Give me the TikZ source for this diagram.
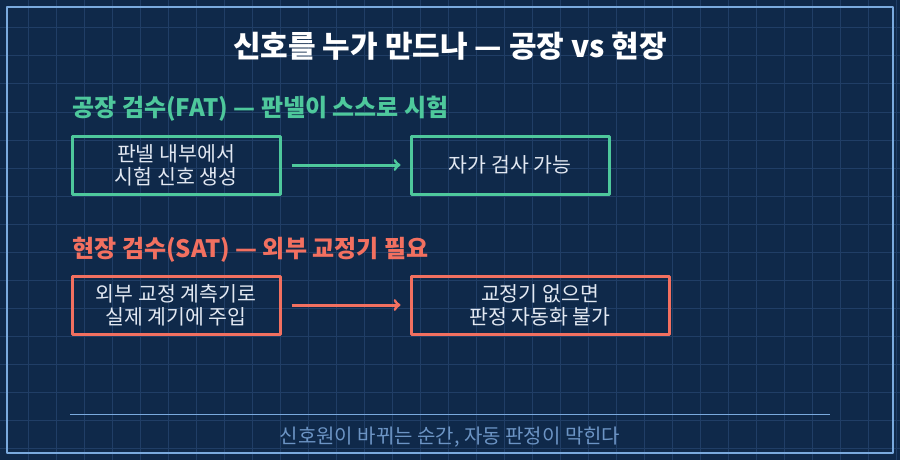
\documentclass[tikz,border=0pt]{standalone}
\usepackage{fontspec}
\setmainfont{Noto Sans CJK KR}
\usetikzlibrary{positioning}
\definecolor{bgnavy}{RGB}{15,41,74}
\definecolor{gridline}{RGB}{32,62,102}
\definecolor{framecol}{RGB}{122,170,222}
\definecolor{fatgreen}{RGB}{78,200,156}
\definecolor{satred}{RGB}{242,112,96}
\definecolor{boxtext}{RGB}{226,232,242}
\definecolor{notecol}{RGB}{108,148,196}
\tikzset{
  fatbox/.style={draw=fatgreen,line width=3pt,text=boxtext,align=center,font=\fontsize{20.5}{23}\selectfont,minimum height=58pt,inner sep=0pt},
  satbox/.style={fatbox,draw=satred},
  head/.style={anchor=west,font=\fontsize{24}{26}\selectfont\bfseries},
}
\begin{document}
\begin{tikzpicture}[x=1pt,y=-1pt,>=to,line join=round]
				\def \W{900}\def \H{460}
				\fill[bgnavy] (0,0) rectangle (\W,\H);
				\useasboundingbox (0,0) rectangle (\W,\H);
				\foreach \i in {28,56,...,899} \draw[gridline,line width=1pt] (\i,0)--(\i,\H);
				\foreach \j in {28,56,...,459} \draw[gridline,line width=1pt] (0,\j)--(\W,\j);
				\draw[framecol,line width=2pt] (7,7) rectangle (893,453);
				\node[white,font=\fontsize{30}{32}\selectfont\bfseries] (title) at (450,46) {신호를 누가 만드나 — 공장 vs 현장};
				% factory acceptance test
				\node[head,fatgreen] (fathead) at (69,109) {공장 검수(FAT) — 판넬이 스스로 시험};
				\node[fatbox,minimum width=208pt] (fatsrc) at (176,165) {판넬 내부에서\\시험 신호 생성};
				\node[fatbox,minimum width=198pt] (fatres) at (510,165) {자가 검사 가능};
				\draw[->,fatgreen,line width=3pt,shorten <=10pt,shorten >=9pt] (fatsrc)--(fatres);
				% site acceptance test
				\node[head,satred] (sathead) at (69,250) {현장 검수(SAT) — 외부 교정기 필요};
				\node[satbox,minimum width=208pt] (satsrc) at (176,305) {외부 교정 계측기로\\실제 계기에 주입};
				\node[satbox,minimum width=258pt] (satres) at (540,305) {교정기 없으면\\판정 자동화 불가};
				\draw[->,satred,line width=3pt,shorten <=10pt,shorten >=9pt] (satsrc)--(satres);
				\coordinate (ruleL) at (70,414); \coordinate (ruleR) at (830,414);
				\draw[framecol,line width=1pt] (ruleL)--(ruleR);
				\node[notecol,font=\fontsize{20}{22}\selectfont] (note) at (450,437) {신호원이 바뀌는 순간, 자동 판정이 막힌다};
\end{tikzpicture}
\end{document}
